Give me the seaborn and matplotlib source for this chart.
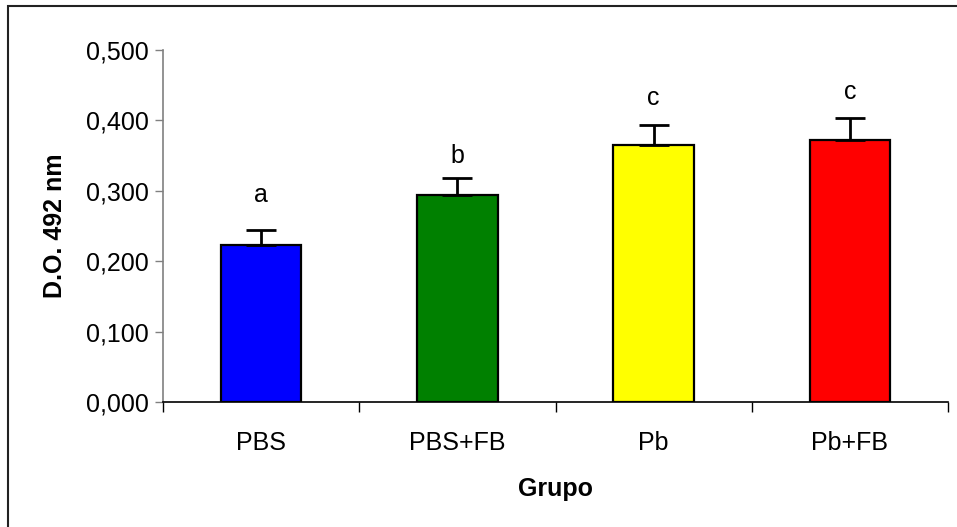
import matplotlib
matplotlib.use("Agg")
import matplotlib.pyplot as plt
import seaborn as sns
import numpy as np
import pandas as pd
from matplotlib.patches import Rectangle
from matplotlib.ticker import FuncFormatter, FixedLocator

groups = ["PBS", "PBS+FB", "Pb", "Pb+FB"]
means = [0.223, 0.294, 0.365, 0.372]
errors = [0.021, 0.024, 0.029, 0.032]
letters = ["a", "b", "c", "c"]
letter_y = [0.294, 0.350, 0.432, 0.440]
colors = ["#0000FF", "#008000", "#FFFF00", "#FF0000"]

sns.set_style("white")
plt.rcParams['font.family'] = ['Liberation Sans', 'DejaVu Sans']
plt.rcParams['text.color'] = 'black'
plt.rcParams['axes.labelcolor'] = 'black'
plt.rcParams['xtick.labelcolor'] = 'black'
plt.rcParams['ytick.labelcolor'] = 'black'

fig = plt.figure(figsize=(9.57, 5.27), dpi=100)
ax = fig.add_axes([163/957, 1 - 402/527, 785/957, 352/527])

df = pd.DataFrame({"Grupo": groups, "DO": means})
sns.barplot(data=df, x="Grupo", y="DO", hue="Grupo", palette=colors,
            order=groups, hue_order=groups, errorbar=None, width=0.41,
            edgecolor="black", linewidth=1.6, legend=False, ax=ax, saturation=1)

xpos = np.arange(len(groups))
ax.errorbar(xpos, means, yerr=[np.zeros(len(means)), errors], fmt="none",
            ecolor="black", elinewidth=2, capsize=11, capthick=2, zorder=5)

for x, ly, t in zip(xpos, letter_y, letters):
    ax.text(x, ly, t, ha="center", va="center", fontsize=18, color="black")

ax.set_xlim(-0.5, 3.5)
ax.set_ylim(0, 0.5)
ax.set_yticks(np.arange(0, 0.501, 0.1))
ax.yaxis.set_major_formatter(FuncFormatter(lambda v, p: f"{v:.3f}".replace(".", ",")))
ax.tick_params(axis="y", labelsize=18, length=6, width=1, color="#808080",
               labelcolor="black", direction="out", left=True, pad=4)
ax.set_xticks(xpos)
ax.set_xticklabels(groups)
ax.tick_params(axis="x", which="major", labelsize=18, length=0, pad=21,
               labelcolor="black")
ax.xaxis.set_minor_locator(FixedLocator([-0.5, 0.5, 1.5, 2.5, 3.5]))
ax.tick_params(axis="x", which="minor", length=7, width=1, color="black",
               direction="out", bottom=True)

for s in ["top", "right"]:
    ax.spines[s].set_visible(False)
ax.spines["left"].set_color("#808080")
ax.spines["left"].set_linewidth(1.2)
ax.spines["bottom"].set_color("black")
ax.spines["bottom"].set_linewidth(1.2)

ax.set_xlabel("Grupo", fontsize=18, fontweight="bold", labelpad=16, color="black")
ax.set_ylabel("D.O. 492 nm", fontsize=18, fontweight="bold", labelpad=14, color="black")

fig.patches.append(Rectangle((8/957, -0.1), 1.2, 1 - 6/527 + 0.1,
                             transform=fig.transFigure, fill=False,
                             edgecolor="#222222", linewidth=1.5))

fig.savefig("out.png", dpi=100)
